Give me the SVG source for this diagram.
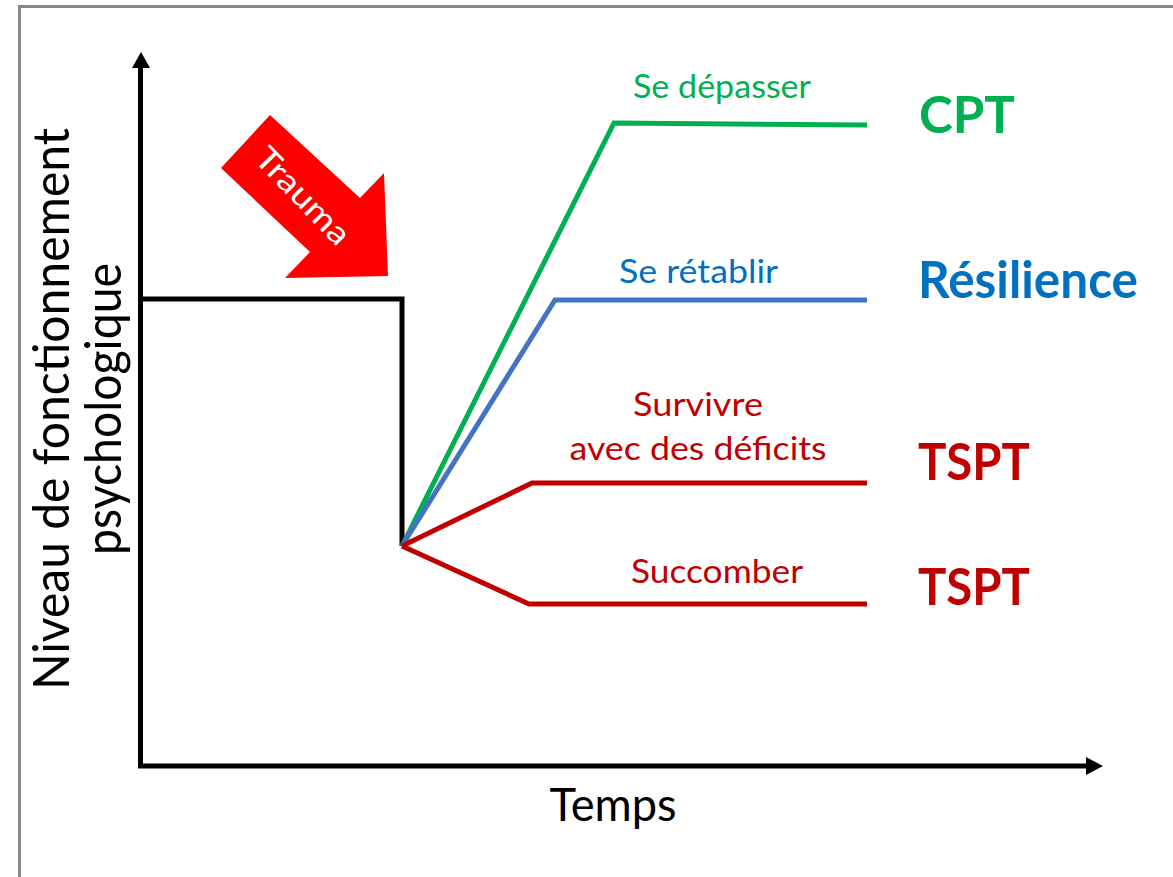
<svg xmlns="http://www.w3.org/2000/svg" width="1173" height="877" viewBox="0 0 1173 877">
<style>
text{font-family:Lato,"Open Sans","Liberation Sans",sans-serif}
.ln{fill:none;stroke-width:5;stroke-linejoin:miter}
.lbl{font-size:32px}
.big{font-size:52px;font-weight:700}
.g{fill:#00B050}.b{fill:#0070C0}.r{fill:#C00000}
</style>
<rect x="0" y="0" width="1173" height="877" fill="#fff"/>
<rect x="19.5" y="6.5" width="1200" height="900" fill="none" stroke="#888" stroke-width="3"/>
<g id="axes">
<polyline class="ln" stroke="#000" points="140.5,66 140.5,766 1088,766"/>
<polygon points="132,68 141,52 150,68" fill="#000"/>
<polygon points="1086,757 1103,766 1086,775" fill="#000"/>
<text x="69" y="409" font-size="50" text-anchor="middle" transform="rotate(-90 69 409)" textLength="562" lengthAdjust="spacingAndGlyphs">Niveau de fonctionnement</text>
<text x="121" y="409" font-size="50" text-anchor="middle" transform="rotate(-90 121 409)" textLength="292" lengthAdjust="spacingAndGlyphs">psychologique</text>
<text x="613" y="821" font-size="46" text-anchor="middle" textLength="127" lengthAdjust="spacingAndGlyphs">Temps</text>
</g>
<g id="trauma">
<polygon points="270,115 221,168 310,252 285,278 388,276 384,173 360,198" fill="#FF0000"/>
<text x="303" y="207" font-size="32" fill="#fff" text-anchor="middle" transform="rotate(46 303 196)" textLength="122" lengthAdjust="spacingAndGlyphs">Trauma</text>
</g>
<g id="connectors">
<polyline id="baseline" class="ln" stroke="#000" points="142,299 402,299 402,546"/>
<polyline id="green" class="ln" stroke="#00B050" points="402,546 614,123 867,125"/>
<polyline id="blue" class="ln" stroke="#4472C4" points="402,546 555,300 867,300"/>
<polyline id="red1" class="ln" stroke="#C00000" points="402,546 532,483 867,483"/>
<polyline id="red2" class="ln" stroke="#C00000" points="402,546 529,604 867,604"/>
</g>
<g id="depasser">
<text class="lbl g" x="633" y="98" textLength="178" lengthAdjust="spacingAndGlyphs">Se dépasser</text>
<text class="big g" x="919" y="133" textLength="96" lengthAdjust="spacingAndGlyphs">CPT</text>
</g>
<g id="retablir">
<text class="lbl b" x="619" y="283" textLength="159" lengthAdjust="spacingAndGlyphs">Se rétablir</text>
<text class="big b" x="918" y="298" textLength="220" lengthAdjust="spacingAndGlyphs">Résilience</text>
</g>
<g id="survivre">
<text class="lbl r" x="698" y="416" text-anchor="middle" textLength="130" lengthAdjust="spacingAndGlyphs">Survivre</text>
<text class="lbl r" x="698" y="460" text-anchor="middle" textLength="257" lengthAdjust="spacingAndGlyphs">avec des déficits</text>
<text class="big r" x="918" y="480" textLength="112" lengthAdjust="spacingAndGlyphs">TSPT</text>
</g>
<g id="succomber">
<text class="lbl r" x="631" y="583" textLength="172" lengthAdjust="spacingAndGlyphs">Succomber</text>
<text class="big r" x="918" y="605" textLength="112" lengthAdjust="spacingAndGlyphs">TSPT</text>
</g>
</svg>
